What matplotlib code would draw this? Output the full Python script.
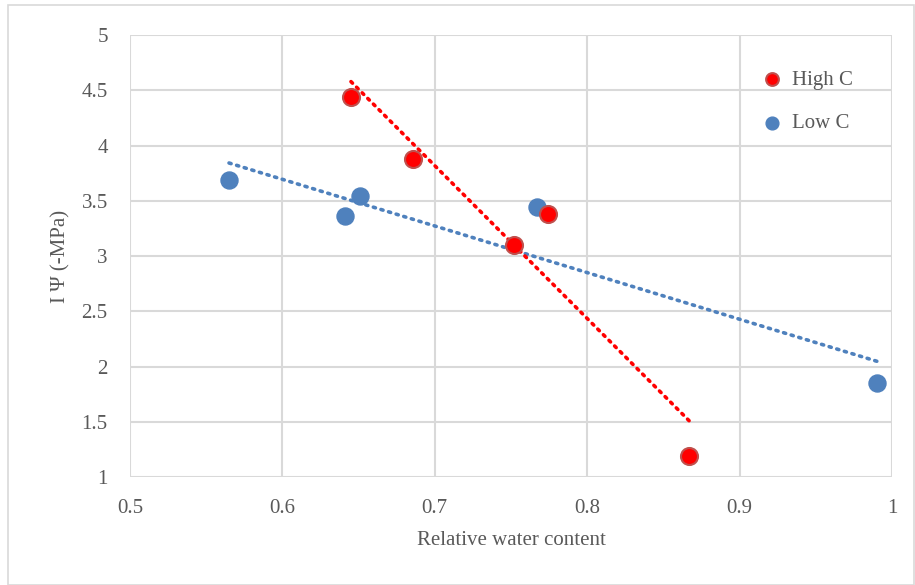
import numpy as np
import matplotlib.pyplot as plt
from matplotlib.patches import Rectangle

# data
high_x = [0.645, 0.686, 0.752, 0.774, 0.867]
high_y = [4.44, 3.88, 3.10, 3.38, 1.19]
low_x = [0.565, 0.641, 0.651, 0.767, 0.990]
low_y = [3.69, 3.36, 3.54, 3.44, 1.85]

red = '#ff0000'
blue = '#4f81bd'
txt = '#595959'
grid = '#d9d9d9'

plt.rcParams['font.family'] = ['Liberation Serif', 'DejaVu Serif']

fig = plt.figure(figsize=(9.15, 5.85), dpi=100)
ax = fig.add_axes([0.142, 0.1846, 0.833, 0.7554])

# outer chart border
fig.patches.append(Rectangle((0.009, 0.0), 0.99, 0.991, transform=fig.transFigure,
                             fill=False, edgecolor=grid, linewidth=1.2))

# linear trendlines
for xs, ys, col in [(low_x, low_y, blue), (high_x, high_y, red)]:
    m, b = np.polyfit(xs, ys, 1)
    xx = np.array([min(xs), max(xs)])
    ax.plot(xx, m * xx + b, color=col, linewidth=2.6,
            linestyle=(0, (0.6, 1.6)), dash_capstyle='round', zorder=2)

ax.scatter(low_x, low_y, s=150, color=blue, edgecolors=blue, linewidths=1,
           label='Low C', zorder=3)
ax.scatter(high_x, high_y, s=150, color=red, edgecolors='#c0504d', linewidths=1.5,
           label='High C', zorder=4)

ax.set_xlim(0.5, 1)
ax.set_ylim(1, 5)
ax.set_xticks(np.arange(0.5, 1.01, 0.1))
ax.set_xticklabels(['0.5', '0.6', '0.7', '0.8', '0.9', '1'])
ax.set_yticks(np.arange(1, 5.01, 0.5))
ax.set_yticklabels(['1', '1.5', '2', '2.5', '3', '3.5', '4', '4.5', '5'])
ax.grid(True, color=grid, linewidth=1.5)
ax.set_axisbelow(True)
for s in ax.spines.values():
    s.set_visible(False)
ax.tick_params(length=0, labelsize=15, colors=txt)
ax.tick_params(axis='y', pad=16)
ax.tick_params(axis='x', pad=16)

ax.set_xlabel('Relative water content', fontsize=15, color=txt, labelpad=9)
ax.set_ylabel('I Ψ (-MPa)', fontsize=15, color=txt, labelpad=8)

h, l = ax.get_legend_handles_labels()
ax.legend(h[::-1], l[::-1], loc='upper right', bbox_to_anchor=(0.96, 0.94),
          frameon=False, fontsize=15, labelcolor=txt, handletextpad=0.0,
          labelspacing=1.15, markerscale=0.75, borderaxespad=0)

fig.savefig('out.png', dpi=100)
